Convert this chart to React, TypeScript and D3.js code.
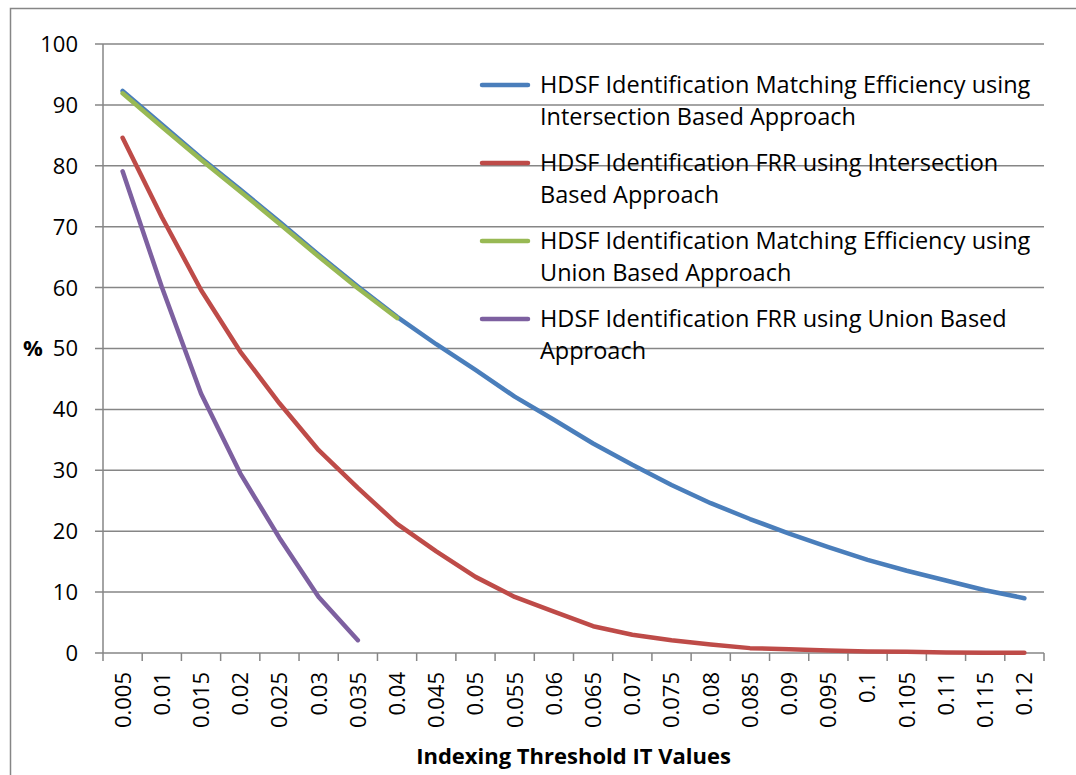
import React, { useRef, useEffect } from "react";
import * as d3 from "d3";

// category labels on the x axis
const thresholds = [
  "0.005", "0.01", "0.015", "0.02", "0.025", "0.03", "0.035", "0.04",
  "0.045", "0.05", "0.055", "0.06", "0.065", "0.07", "0.075", "0.08",
  "0.085", "0.09", "0.095", "0.1", "0.105", "0.11", "0.115", "0.12",
];

// series values (%)
const effIntersection = [
  92.3, 86.8, 81.3, 76.1, 70.8, 65.4, 60.2, 55.2, 50.7, 46.5, 42.1, 38.3,
  34.4, 30.9, 27.6, 24.6, 22.0, 19.6, 17.4, 15.3, 13.5, 11.9, 10.3, 9.0,
];
const frrIntersection = [
  84.6, 71.6, 59.6, 49.5, 41.0, 33.3, 27.1, 21.2, 16.7, 12.5, 9.2, 6.8,
  4.4, 3.0, 2.1, 1.4, 0.8, 0.6, 0.4, 0.25, 0.2, 0.1, 0.05, 0.05,
];
const effUnion = [91.9, 86.4, 81.0, 75.8, 70.5, 65.1, 59.9, 55.0];
const frrUnion = [79.1, 60.1, 42.6, 29.5, 18.9, 9.2, 2.1];

const yTicks = [0, 10, 20, 30, 40, 50, 60, 70, 80, 90, 100];

const series = [
  { name: ["HDSF Identification Matching Efficiency using", "Intersection Based Approach"], values: effIntersection, color: "#4A7EBB" },
  { name: ["HDSF Identification FRR using Intersection", "Based Approach"], values: frrIntersection, color: "#BE4B48" },
  { name: ["HDSF Identification Matching Efficiency using", "Union Based Approach"], values: effUnion, color: "#98B954" },
  { name: ["HDSF Identification FRR using Union Based", "Approach"], values: frrUnion, color: "#7D60A0" },
];

const App = () => {
  const ref = useRef<SVGSVGElement>(null);

  useEffect(() => {
    const width = 1076;
    const height = 775;
    const marginLeft = 103;
    const marginRight = 32;
    const marginTop = 44;
    const marginBottom = 122;
    const font = "'Open Sans', Lato, sans-serif";
    const grey = "#868686";

    const svg = d3.select(ref.current);
    svg.selectAll("*").remove();

    // outer chart frame
    svg.append("rect")
      .attr("x", 10.5).attr("y", 8.5)
      .attr("width", 1200).attr("height", 900)
      .attr("fill", "white")
      .attr("stroke", grey).attr("stroke-width", 1.5);

    const x = d3.scaleBand()
      .domain(thresholds)
      .range([marginLeft, width - marginRight]);

    const y = d3.scaleLinear()
      .domain([0, 100])
      .range([height - marginBottom, marginTop]);

    // horizontal gridlines
    svg.append("g")
      .selectAll("line")
      .data(yTicks)
      .join("line")
      .attr("x1", marginLeft - 8)
      .attr("x2", width - marginRight)
      .attr("y1", (d) => y(d))
      .attr("y2", (d) => y(d))
      .attr("stroke", grey)
      .attr("stroke-width", 1.5);

    // y tick labels
    svg.append("g")
      .selectAll("text")
      .data(yTicks)
      .join("text")
      .attr("x", 78)
      .attr("y", (d) => y(d))
      .attr("dy", "0.36em")
      .attr("text-anchor", "end")
      .attr("font-family", font)
      .attr("font-size", 22)
      .attr("fill", "#000")
      .text((d) => d);

    // y axis line
    svg.append("line")
      .attr("x1", marginLeft).attr("x2", marginLeft)
      .attr("y1", y(100)).attr("y2", y(0))
      .attr("stroke", grey).attr("stroke-width", 1.5);

    // x axis ticks at band boundaries
    const bounds = thresholds.map((t) => x(t) as number).concat([width - marginRight]);
    svg.append("g")
      .selectAll("line")
      .data(bounds)
      .join("line")
      .attr("x1", (d) => d).attr("x2", (d) => d)
      .attr("y1", y(0)).attr("y2", y(0) + 8)
      .attr("stroke", grey).attr("stroke-width", 1.5);

    // x tick labels (rotated)
    svg.append("g")
      .selectAll("text")
      .data(thresholds)
      .join("text")
      .attr("transform", (d) => `translate(${(x(d) as number) + x.bandwidth() / 2},${y(0) + 19}) rotate(-90)`)
      .attr("dy", "0.36em")
      .attr("text-anchor", "end")
      .attr("font-family", font)
      .attr("font-size", 22)
      .attr("fill", "#000")
      .text((d) => d);

    // axis titles
    svg.append("text")
      .attr("x", (marginLeft + width - marginRight) / 2)
      .attr("y", 764)
      .attr("text-anchor", "middle")
      .attr("font-family", font)
      .attr("font-weight", "bold")
      .attr("font-size", 22)
      .text("Indexing Threshold IT Values");

    svg.append("text")
      .attr("x", 33)
      .attr("y", y(50))
      .attr("dy", "0.36em")
      .attr("text-anchor", "middle")
      .attr("font-family", font)
      .attr("font-weight", "bold")
      .attr("font-size", 22)
      .text("%");

    // series lines
    const line = d3.line<number>()
      .x((d, i) => (x(thresholds[i]) as number) + x.bandwidth() / 2)
      .y((d) => y(d));

    series.forEach((s) => {
      svg.append("path")
        .attr("fill", "none")
        .attr("stroke", s.color)
        .attr("stroke-width", 4.5)
        .attr("stroke-linecap", "round")
        .attr("stroke-linejoin", "round")
        .attr("d", line(s.values));
    });

    // legend (transparent, over the gridlines)
    const legend = svg.append("g");
    series.forEach((s, i) => {
      const ly = 85 + i * 78;
      legend.append("line")
        .attr("x1", 482).attr("x2", 528)
        .attr("y1", ly).attr("y2", ly)
        .attr("stroke", s.color)
        .attr("stroke-width", 4.5)
        .attr("stroke-linecap", "round");
      s.name.forEach((t, j) => {
        legend.append("text")
          .attr("x", 540)
          .attr("y", ly + 8 + j * 31.5)
          .attr("font-family", font)
          .attr("font-size", 23.5)
          .attr("fill", "#000")
          .text(t);
      });
    });
  }, []);

  return (
    <svg
      ref={ref}
      width={1076}
      height={775}
      style={{ position: "absolute", left: 0, top: 0, background: "white" }}
    />
  );
};

export default App;
